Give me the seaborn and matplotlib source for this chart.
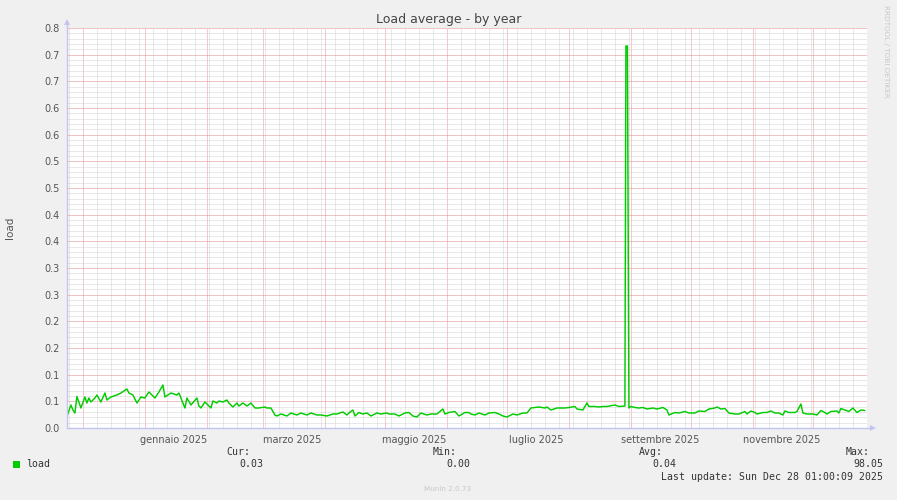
import numpy as np
import pandas as pd
import matplotlib
matplotlib.use("Agg")
import matplotlib.pyplot as plt
import matplotlib.dates as mdates
from matplotlib.ticker import FixedLocator, NullFormatter
from matplotlib.patches import Rectangle
import seaborn as sns

# ---------------- data ----------------
dates = [
    "2024-11-23", "2024-11-25", "2024-11-26", "2024-11-27", "2024-11-28", "2024-11-30",
    "2024-12-02", "2024-12-03", "2024-12-04", "2024-12-05", "2024-12-07", "2024-12-08",
    "2024-12-10", "2024-12-12", "2024-12-13", "2024-12-15", "2024-12-18", "2024-12-20",
    "2024-12-23", "2024-12-24", "2024-12-26", "2024-12-28", "2024-12-30",
    "2025-01-01", "2025-01-03", "2025-01-06", "2025-01-08", "2025-01-10", "2025-01-11",
    "2025-01-14", "2025-01-17", "2025-01-18", "2025-01-21", "2025-01-22", "2025-01-24",
    "2025-01-27", "2025-01-28", "2025-01-29", "2025-01-31",
    "2025-02-01", "2025-02-03", "2025-02-04", "2025-02-06", "2025-02-07", "2025-02-09",
    "2025-02-11", "2025-02-12", "2025-02-14", "2025-02-16", "2025-02-17", "2025-02-19",
    "2025-02-21", "2025-02-23", "2025-02-25", "2025-02-27",
    "2025-03-02", "2025-03-03", "2025-03-05", "2025-03-07", "2025-03-08", "2025-03-10",
    "2025-03-13", "2025-03-15", "2025-03-18", "2025-03-20", "2025-03-23", "2025-03-25",
    "2025-03-28", "2025-03-30",
    "2025-04-02", "2025-04-05", "2025-04-07", "2025-04-10", "2025-04-12", "2025-04-13",
    "2025-04-15", "2025-04-16", "2025-04-18", "2025-04-20", "2025-04-22", "2025-04-24",
    "2025-04-27", "2025-04-29",
    "2025-05-02", "2025-05-03", "2025-05-06", "2025-05-08", "2025-05-11", "2025-05-13",
    "2025-05-15", "2025-05-17", "2025-05-19", "2025-05-22", "2025-05-24", "2025-05-27",
    "2025-05-30", "2025-05-31",
    "2025-06-02", "2025-06-05", "2025-06-07", "2025-06-10", "2025-06-12", "2025-06-13",
    "2025-06-15", "2025-06-17", "2025-06-20", "2025-06-22", "2025-06-25", "2025-06-27",
    "2025-06-29",
    "2025-07-01", "2025-07-04", "2025-07-06", "2025-07-09", "2025-07-11", "2025-07-13",
    "2025-07-15", "2025-07-17", "2025-07-20", "2025-07-21", "2025-07-23", "2025-07-26",
    "2025-07-28", "2025-07-30",
    "2025-08-01", "2025-08-04", "2025-08-05", "2025-08-08", "2025-08-10", "2025-08-11",
    "2025-08-14", "2025-08-16", "2025-08-18", "2025-08-20", "2025-08-24", "2025-08-26",
    "2025-08-29", "2025-08-29 12:00", "2025-08-30 06:00", "2025-08-31",
    "2025-09-01", "2025-09-03", "2025-09-05", "2025-09-07", "2025-09-09", "2025-09-12",
    "2025-09-14", "2025-09-17", "2025-09-19", "2025-09-20", "2025-09-23", "2025-09-25",
    "2025-09-28", "2025-09-30",
    "2025-10-03", "2025-10-05", "2025-10-08", "2025-10-10", "2025-10-13", "2025-10-14",
    "2025-10-16", "2025-10-18", "2025-10-20", "2025-10-23", "2025-10-25", "2025-10-28",
    "2025-10-29", "2025-10-31",
    "2025-11-02", "2025-11-03", "2025-11-06", "2025-11-08", "2025-11-10", "2025-11-12",
    "2025-11-14", "2025-11-16", "2025-11-17", "2025-11-19", "2025-11-22", "2025-11-23",
    "2025-11-25", "2025-11-26", "2025-11-28",
    "2025-12-01", "2025-12-03", "2025-12-05", "2025-12-07", "2025-12-08", "2025-12-10",
    "2025-12-13", "2025-12-14", "2025-12-15", "2025-12-17", "2025-12-19", "2025-12-21",
    "2025-12-23", "2025-12-25", "2025-12-27",
]
load = [
    0.023, 0.046, 0.036, 0.030, 0.063, 0.040,
    0.062, 0.050, 0.060, 0.052, 0.060, 0.066,
    0.052, 0.070, 0.056, 0.062, 0.066, 0.070,
    0.078, 0.070, 0.066, 0.050, 0.062,
    0.060, 0.072, 0.060, 0.072, 0.086, 0.062,
    0.070, 0.066, 0.070, 0.040, 0.060, 0.046,
    0.060, 0.044, 0.040, 0.052,
    0.048, 0.040, 0.054, 0.050, 0.054, 0.052,
    0.056, 0.050, 0.042, 0.050, 0.044, 0.050,
    0.044, 0.050, 0.040, 0.040,
    0.042, 0.040, 0.040, 0.026, 0.024, 0.028,
    0.024, 0.030, 0.026, 0.030, 0.026, 0.030,
    0.026, 0.026,
    0.024, 0.028, 0.028, 0.032, 0.026, 0.030,
    0.036, 0.024, 0.031, 0.028, 0.030, 0.024,
    0.030, 0.028,
    0.030, 0.028, 0.028, 0.024, 0.030, 0.031,
    0.024, 0.022, 0.030, 0.026, 0.028, 0.028,
    0.038, 0.028,
    0.031, 0.033, 0.024, 0.031, 0.031, 0.028,
    0.026, 0.030, 0.026, 0.030, 0.031, 0.028,
    0.024,
    0.022, 0.028, 0.026, 0.030, 0.030, 0.040,
    0.041, 0.042, 0.040, 0.042, 0.036, 0.040,
    0.040, 0.040,
    0.041, 0.043, 0.038, 0.036, 0.050, 0.043,
    0.043, 0.042, 0.043, 0.043, 0.046, 0.043,
    0.044, 0.764, 0.764, 0.040,
    0.043, 0.041, 0.040, 0.041, 0.038, 0.040,
    0.038, 0.041, 0.036, 0.026, 0.031, 0.030,
    0.033, 0.030,
    0.030, 0.034, 0.033, 0.038, 0.040, 0.042,
    0.038, 0.039, 0.030, 0.028, 0.028, 0.033,
    0.028, 0.034,
    0.031, 0.028, 0.031, 0.031, 0.034, 0.030,
    0.030, 0.026, 0.034, 0.031, 0.031, 0.033,
    0.048, 0.030, 0.028,
    0.028, 0.026, 0.035, 0.031, 0.028, 0.033,
    0.034, 0.030, 0.039, 0.036, 0.033, 0.040,
    0.031, 0.036, 0.035,
]
series_name = "load"
y_tick_labels = ["0.0", "0.1", "0.1", "0.2", "0.2", "0.3", "0.3", "0.4",
                 "0.4", "0.5", "0.5", "0.6", "0.6", "0.7", "0.7", "0.8"]
x_label_dates = ["2025-01-15 12:00", "2025-03-15 12:00", "2025-05-15 12:00",
                 "2025-07-15 12:00", "2025-09-15 12:00", "2025-11-15 12:00"]
x_labels = ["gennaio 2025", "marzo 2025", "maggio 2025",
            "luglio 2025", "settembre 2025", "novembre 2025"]
legend_stats = [("Cur:", "0.03"), ("Min:", "0.00"), ("Avg:", "0.04"), ("Max:", "98.05")]

df = pd.DataFrame({"time": pd.to_datetime(dates, format="mixed"), "load": load})

# ---------------- figure ----------------
W, H = 897, 500
sns.set_style("white")
plt.rcParams["font.family"] = ["DejaVu Sans"]
fig = plt.figure(figsize=(W / 100, H / 100), dpi=100, facecolor="#F0F0F0")

def fx(px):
    return px / W

def fy(py):
    return 1 - py / H

x0, x1, y0, y1 = 67, 867, 28, 428
ax = fig.add_axes([fx(x0), fy(y1), fx(x1 - x0), (y1 - y0) / H])
ax.set_facecolor("white")

GREEN = "#00CC00"
sns.lineplot(data=df, x="time", y="load", ax=ax, color=GREEN, linewidth=1.05,
             estimator=None, sort=False, legend=False)

xmin = pd.Timestamp("2024-11-23 01:00")
xmax = pd.Timestamp("2025-12-28 01:00")
ax.set_xlim(xmin, xmax)
ax.set_ylim(0, 0.8)
ax.set_xlabel("")
ax.set_ylabel("")

# y grid
ymaj = np.linspace(0, 0.8, len(y_tick_labels))
ymin_ = np.linspace(0, 0.8, (len(y_tick_labels) - 1) * 5 + 1)
ax.yaxis.set_major_locator(FixedLocator(ymaj))
ax.yaxis.set_minor_locator(FixedLocator(ymin_))
ax.set_yticklabels(y_tick_labels)

# x grid
ax.xaxis.set_major_locator(mdates.MonthLocator())
ax.xaxis.set_minor_locator(mdates.WeekdayLocator(byweekday=mdates.SU))
ax.xaxis.set_major_formatter(NullFormatter())
ax.xaxis.set_minor_formatter(NullFormatter())

MINOR_C = "#D2D2D2"
MAJOR_C = "#E38A8A"
ax.grid(which="minor", color=MINOR_C, linestyle=(0, (1, 1)), linewidth=0.72)
ax.yaxis.grid(which="major", color=MAJOR_C, linestyle=(0, (1, 1)), linewidth=0.72)
ax.xaxis.grid(which="major", color="#EC9494", linestyle=(0, (1, 1)), linewidth=0.72)
ax.set_axisbelow(True)

for s in ax.spines.values():
    s.set_visible(False)

TEXT_C = "#555555"
ax.tick_params(axis="y", which="major", length=3, width=0.7, color="#B8B8B8",
               labelsize=7, labelcolor=TEXT_C, pad=2)
ax.tick_params(axis="y", which="minor", length=2, width=0.7, color="#C8C8C8")
ax.tick_params(axis="x", which="major", length=3, width=0.7, color="#E0A0A0", pad=0)
ax.tick_params(axis="x", which="minor", length=2, width=0.7, color="#C8C8C8")

# x labels on secondary axis
sec = ax.secondary_xaxis("bottom")
sec.set_xticks(pd.to_datetime(x_label_dates), x_labels)
sec.tick_params(length=0, labelsize=7, labelcolor=TEXT_C, pad=5)
for s in sec.spines.values():
    s.set_visible(False)

# axis lines with arrows
AX_C = "#C4C4F2"
ax.plot([0, 1.008], [0, 0], transform=ax.transAxes, clip_on=False, color=AX_C, lw=1.0)
ax.plot([0, 0], [0, 1.016], transform=ax.transAxes, clip_on=False, color=AX_C, lw=1.0)
ax.plot([1.008], [0], transform=ax.transAxes, clip_on=False, marker=">",
        color=AX_C, markersize=4, mew=0)
ax.plot([0], [1.016], transform=ax.transAxes, clip_on=False, marker="^",
        color=AX_C, markersize=4, mew=0)

# texts
fig.text(fx(449), fy(19), "Load average - by year", ha="center", va="center",
         fontsize=9, color="#444444")
fig.text(fx(10), fy(228), "load", ha="center", va="center", rotation=90,
         fontsize=7.5, color=TEXT_C)
fig.text(fx(886), fy(5), "RRDTOOL / TOBI OETIKER", ha="center", va="top",
         rotation=270, fontsize=5.2, color="#C8C8C8")

MONO = "DejaVu Sans Mono"
fig.add_artist(Rectangle((fx(13), fy(468)), 7 / W, 7 / H, transform=fig.transFigure,
                         facecolor=GREEN, edgecolor="none"))
fig.text(fx(26), fy(464), series_name, ha="left", va="center", family=MONO,
         fontsize=7.1, color="#333333")

stat_pos = [(250, 263), (457, 470), (663, 676), (870, 883)]
for (lab, val), (lx, vx) in zip(legend_stats, stat_pos):
    fig.text(fx(lx), fy(452), lab, ha="right", va="center", family=MONO,
             fontsize=7.1, color="#333333")
    fig.text(fx(vx), fy(464), val, ha="right", va="center", family=MONO,
             fontsize=7.1, color="#333333")
fig.text(fx(883), fy(477), "Last update: Sun Dec 28 01:00:09 2025", ha="right",
         va="center", family=MONO, fontsize=7.1, color="#333333")
fig.text(fx(448), fy(489), "Munin 2.0.73", ha="center", va="center",
         fontsize=5.2, color="#C8C8C8")

fig.savefig("out.png", dpi=100, facecolor=fig.get_facecolor())
